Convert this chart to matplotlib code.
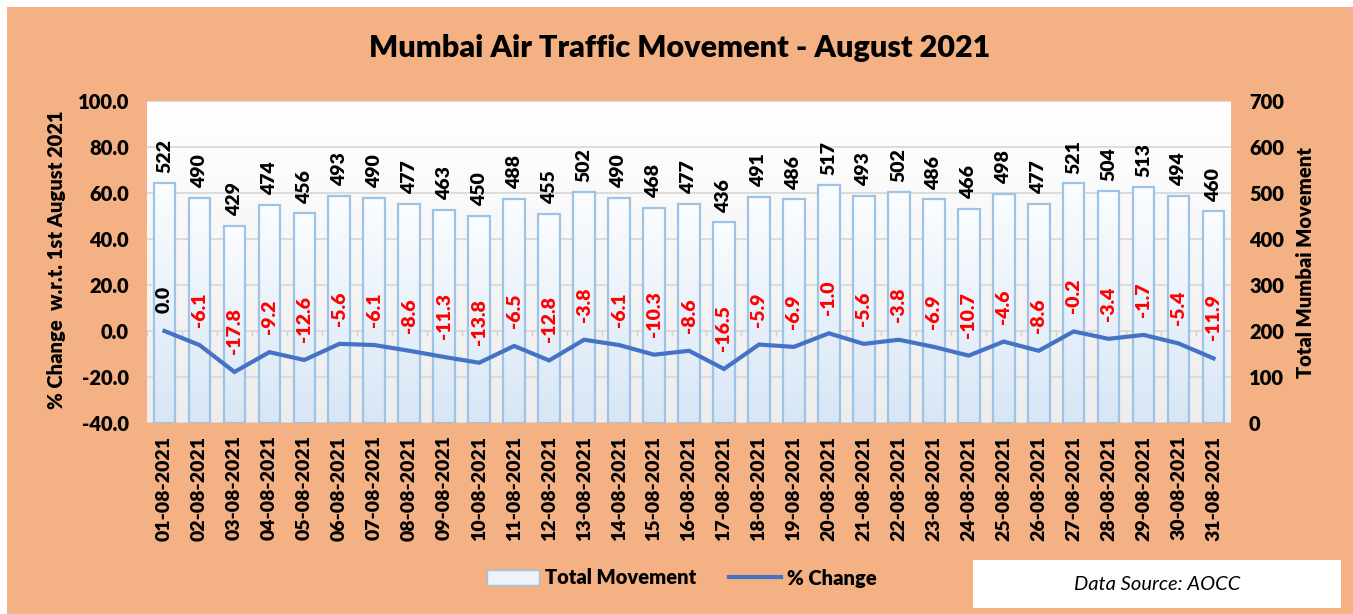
import numpy as np
import matplotlib
matplotlib.use('Agg')
import matplotlib.pyplot as plt
from matplotlib.colors import LinearSegmentedColormap
from matplotlib.patches import Rectangle, Patch
from matplotlib.lines import Line2D

plt.rcParams['font.family'] = ['Lato', 'DejaVu Sans']
BOLD = 'heavy'

dates = [f'{d:02d}-08-2021' for d in range(1, 32)]
total_movement = [522, 490, 429, 474, 456, 493, 490, 477, 463, 450, 488, 455, 502, 490, 468, 477,
                  436, 491, 486, 517, 493, 502, 486, 466, 498, 477, 521, 504, 513, 494, 460]
pct_change = [0.0, -6.1, -17.8, -9.2, -12.6, -5.6, -6.1, -8.6, -11.3, -13.8, -6.5, -12.8, -3.8, -6.1,
              -10.3, -8.6, -16.5, -5.9, -6.9, -1.0, -5.6, -3.8, -6.9, -10.7, -4.6, -8.6, -0.2, -3.4,
              -1.7, -5.4, -11.9]

W, H = 1353, 614
fig = plt.figure(figsize=(W / 100, H / 100), dpi=100)
fig.patch.set_facecolor('white')
fig.patches.append(Rectangle((7 / W, 0), 1, 1 - 7 / H, transform=fig.transFigure,
                             facecolor='#F4B183', edgecolor='none', zorder=-10))

ax = fig.add_axes([147 / W, 1 - 423 / H, (1231 - 147) / W, (423 - 101) / H])
ax2 = ax.twinx()

x = np.arange(len(dates))
grad = np.linspace(0, 1, 256).reshape(-1, 1)

# plot area background gradient
bg_cmap = LinearSegmentedColormap.from_list('bg', ['#FFFFFF', '#EDEDED'])
ax.imshow(grad, extent=(0, 1, 0, 1), transform=ax.transAxes, aspect='auto', cmap=bg_cmap, zorder=0)

# bars with gradient fill
bar_cmap = LinearSegmentedColormap.from_list('bar', ['#FBFDFF', '#D7E6F5'])
bars = ax.bar(x, total_movement, width=0.62, facecolor='none', edgecolor='#9DC3E6', linewidth=1.6, zorder=3)
for rect in bars:
    x0 = rect.get_x()
    ax.imshow(grad, extent=(x0, x0 + rect.get_width(), 0, rect.get_height()),
              aspect='auto', cmap=bar_cmap, zorder=2.5)

for i, v in enumerate(total_movement):
    ax.annotate(str(v), (x[i], v), xytext=(0, 7), textcoords='offset points', rotation=90,
                ha='center', va='bottom', fontsize=14, fontweight=BOLD, color='black')

ax.set_xlim(-0.5, len(dates) - 0.5)
ax.set_ylim(0, 700)
ax.set_yticks(range(0, 701, 100))
ax.set_axisbelow(True)
ax.yaxis.grid(True, color='#D9D9D9', lw=1.3)
ax.yaxis.tick_right()
ax.tick_params(axis='y', length=0, labelsize=14.5, pad=13)
ax.set_xticks(x)
ax.set_xticklabels(dates, rotation=90, fontsize=14, fontweight=BOLD)
ax.tick_params(axis='x', length=0, pad=9)
for lab in ax.get_yticklabels():
    lab.set_fontweight(BOLD)

# % change line
ax2.plot(x, pct_change, color='#4472C4', lw=3, zorder=5, solid_joinstyle='miter')
ax2.vlines(np.arange(len(dates) + 1) - 0.5, -2.2, 0, color='#D0D0D0', lw=1, zorder=1)
for i, p in enumerate(pct_change):
    ax2.annotate(f'{p:.1f}', (x[i], p), xytext=(0, 13), textcoords='offset points', rotation=90,
                 ha='center', va='bottom', fontsize=14, fontweight=BOLD,
                 color='black' if p == 0 else '#FF0000')
ax2.set_ylim(-40, 100)
ax2.set_yticks(range(-40, 101, 20))
ax2.set_yticklabels([f'{t:.1f}' for t in range(-40, 101, 20)], fontsize=14.5, fontweight=BOLD)
ax2.yaxis.tick_left()
ax2.tick_params(axis='y', length=0, pad=13)

for a in (ax, ax2):
    for s in a.spines.values():
        s.set_visible(False)

fig.text(679.5 / W, 1 - 48 / H, 'Mumbai Air Traffic Movement - August 2021',
         ha='center', va='center', fontsize=22, fontweight=BOLD)
fig.text(57 / W, 1 - 260 / H, '% Change  w.r.t. 1st August 2021', rotation=90,
         ha='center', va='center', fontsize=14.5, fontweight=BOLD)
fig.text(1305 / W, 1 - 263 / H, 'Total Mumbai Movement', rotation=90,
         ha='center', va='center', fontsize=14.5, fontweight=BOLD)

handles = [Patch(facecolor='#EEF3F9', edgecolor='#9DC3E6', label='Total Movement'),
           Line2D([], [], color='#4472C4', lw=3, label='% Change')]
fig.legend(handles=handles, loc='center', bbox_to_anchor=(682 / W, 1 - 578 / H), ncol=2,
           frameon=False, prop={'weight': BOLD, 'size': 14.5}, handlelength=2.6,
           handletextpad=0.3, columnspacing=1.6)

fig.patches.append(Rectangle((973 / W, 1 - 608 / H), (1341 - 973) / W, 48 / H,
                             transform=fig.transFigure, facecolor='white', edgecolor='none'))
fig.text(1157 / W, 1 - 584 / H, 'Data Source: AOCC', ha='center', va='center',
         fontsize=14.5, style='italic')

fig.savefig('out.png', dpi=100)
